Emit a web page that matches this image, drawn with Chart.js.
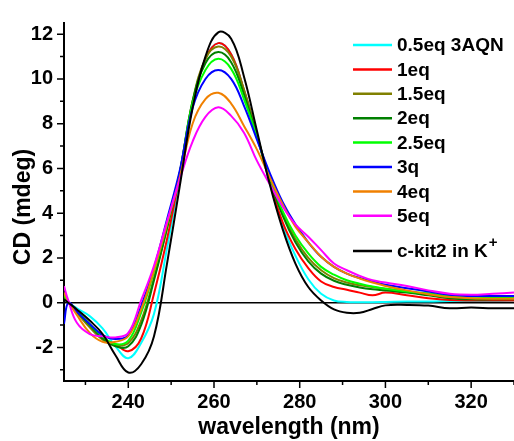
<!DOCTYPE html>
<html>
<head>
<meta charset="utf-8">
<script src="https://cdn.jsdelivr.net/npm/chart.js@4.4.0/dist/chart.umd.min.js"></script>
<style>
  body { margin: 0; background: #fff; }
</style>
</head>
<body>
<canvas id="myChart" width="514" height="441"></canvas>
<script>

// wavelength (nm) shared by all the spectra
const wavelength = [225, 226, 228, 231, 234, 237, 240, 243, 246, 249,
                    252, 255, 258, 261, 264, 267, 270, 273, 276, 279,
                    282, 285, 288, 291, 294, 297, 300, 305, 310, 315,
                    320, 325, 330];

// CD (mdeg)
const eq05 = [0.35, 0.05, -0.25, -0.6, -1.15, -1.95, -2.48, -1.8, -0.5, 2.4,
              5.6, 8.8, 10.9, 11.6, 11.1, 9.5, 7.55, 5.35, 3.45, 2.1,
              1.05, 0.4, 0.1, 0.03, 0.02, 0.02, 0.03, 0.05, 0.05, 0.07,
              0.08, 0.08, 0.1];
const eq1 = [0.3, 0.0, -0.35, -1.05, -1.6, -1.85, -2.17, -1.6, 0.4, 2.8,
             5.7, 8.9, 10.9, 11.6, 11.1, 9.5, 7.5, 5.4, 3.6, 2.4,
             1.55, 0.95, 0.7, 0.58, 0.45, 0.33, 0.45, 0.33, 0.2, 0.12,
             0.1, 0.1, 0.1];
const eq15 = [0.35, 0.0, -0.45, -1.1, -1.65, -1.9, -1.8, -0.8, 1.1, 3.3,
              5.8, 9.0, 10.9, 11.45, 11.0, 9.5, 7.5, 5.55, 4.0, 2.85,
              2.0, 1.45, 1.1, 0.9, 0.78, 0.7, 0.62, 0.5, 0.36, 0.22,
              0.18, 0.17, 0.18];
const eq2 = [0.3, 0.0, -0.4, -1.0, -1.6, -1.95, -1.95, -1.0, 1.0, 3.3,
             5.8, 9.0, 10.7, 11.2, 10.75, 9.3, 7.45, 5.5, 3.9, 2.7,
             1.85, 1.3, 0.98, 0.8, 0.68, 0.6, 0.55, 0.45, 0.33, 0.2,
             0.15, 0.15, 0.15];
const eq25 = [0.35, 0.0, -0.35, -0.95, -1.5, -1.85, -1.7, -0.45, 1.4, 3.5,
              5.8, 8.9, 10.4, 10.9, 10.45, 9.1, 7.4, 5.6, 4.1, 3.0,
              2.2, 1.6, 1.25, 1.0, 0.85, 0.72, 0.62, 0.5, 0.42, 0.3,
              0.27, 0.25, 0.25];
const eq3 = [-0.94, 0.0, -0.4, -0.95, -1.45, -1.62, -1.45, -0.15, 1.55, 3.7,
             5.9, 8.7, 10.0, 10.4, 10.0, 8.8, 7.3, 5.8, 4.5, 3.5,
             2.7, 2.05, 1.6, 1.3, 1.1, 0.95, 0.8, 0.65, 0.5, 0.35,
             0.3, 0.3, 0.3];
const eq4 = [0.45, 0.05, -0.55, -1.35, -1.75, -1.75, -1.5, -0.3, 1.45, 3.5,
             5.6, 8.0, 9.1, 9.38, 8.9, 7.9, 6.85, 5.6, 4.4, 3.4,
             2.7, 2.05, 1.6, 1.3, 1.08, 0.9, 0.75, 0.55, 0.38, 0.25,
             0.2, 0.18, 0.18];
const eq5 = [0.74, 0.1, -0.9, -1.4, -1.5, -1.55, -1.35, 0.1, 1.65, 3.6,
             5.5, 7.2, 8.3, 8.73, 8.35, 7.6, 6.35, 5.3, 4.3, 3.5,
             2.95, 2.35, 1.75, 1.45, 1.2, 1.0, 0.9, 0.75, 0.55, 0.4,
             0.36, 0.4, 0.45];
const ckit2 = [0.15, 0.0, -0.3, -0.8, -1.4, -2.35, -3.12, -2.75, -1.5, 1.7,
               5.2, 8.7, 11.0, 12.08, 11.8, 10.1, 7.7, 5.3, 3.3, 1.75,
               0.7, 0.1, -0.3, -0.45, -0.45, -0.28, -0.12, -0.1, -0.13, -0.25,
               -0.22, -0.25, -0.25];

const labels = ['0.5eq 3AQN', '1eq', '1.5eq', '2eq', '2.5eq', '3q', '4eq', '5eq', 'c-kit2 in K\u207A'];
const series = [eq05, eq1, eq15, eq2, eq25, eq3, eq4, eq5, ckit2];
const colors = ['#00FFFF', '#FF0000', '#808000', '#008000', '#00FF00', '#0000FF', '#F08000', '#FF00FF', '#000000'];

const yTicks = [-2, 0, 2, 4, 6, 8, 10, 12];
const xTicks = [240, 260, 280, 300, 320];

const FONT = '"Liberation Sans", Arial, sans-serif';

// legend drawn inside the plot, no box
const sideLegend = {
    id: 'sideLegend',
    afterDraw(chart){
        const ctx = chart.ctx;
        ctx.save();
        chart.data.datasets.forEach((ds, i) => {
            let y = i < 8 ? 45 + i * 24.4 : 251;
            ctx.strokeStyle = ds.borderColor;
            ctx.lineWidth = 2.5;
            ctx.beginPath();
            ctx.moveTo(353, y);
            ctx.lineTo(392, y);
            ctx.stroke();

            let text = ds.label;
            let sup = text.endsWith('\u207A');
            if(sup) text = text.slice(0, -1);
            ctx.fillStyle = '#000';
            ctx.textBaseline = 'middle';
            ctx.textAlign = 'left';
            ctx.font = 'bold 19px ' + FONT;
            ctx.fillText(text, 397, y + 1);
            if(sup){
                let w = ctx.measureText(text).width;
                ctx.font = 'bold 15px ' + FONT;
                ctx.fillText('+', 397 + w + 1, y - 8);
            }
        });
        ctx.restore();
    }
};

// outward major + minor ticks, axis titles
const axisDecor = {
    id: 'axisDecor',
    afterDraw(chart){
        const {ctx, chartArea, scales} = chart;
        const x = scales.x, y = scales.y;
        ctx.save();
        ctx.strokeStyle = '#000';
        ctx.lineWidth = 1.5;
        ctx.beginPath();
        for(let v = -3; v <= 12; v++){
            let py = y.getPixelForValue(v);
            let len = v % 2 === 0 ? 7 : 4;
            ctx.moveTo(chartArea.left - len, py);
            ctx.lineTo(chartArea.left, py);
        }
        for(let v = 230; v <= 330; v += 10){
            let px = x.getPixelForValue(v);
            let len = v % 20 === 0 ? 7 : 4;
            ctx.moveTo(px, chartArea.bottom);
            ctx.lineTo(px, chartArea.bottom + len);
        }
        ctx.stroke();

        ctx.fillStyle = '#000';
        ctx.font = 'bold 23px ' + FONT;
        ctx.textAlign = 'center';
        ctx.textBaseline = 'middle';
        ctx.fillText('wavelength (nm)', (chartArea.left + chartArea.right) / 2, 428);

        ctx.translate(24, 207);
        ctx.rotate(-Math.PI / 2);
        ctx.fillText('CD (mdeg)', 0, 0);
        ctx.restore();
    }
};

const ctx = document.getElementById('myChart').getContext('2d');

const myChart = new Chart(ctx, {
    type: 'line',
    data: {
        datasets: series.map((vals, i) => ({
            label: labels[i],
            data: wavelength.map((w, j) => ({x: w, y: vals[j]})),
            borderColor: colors[i],
            backgroundColor: colors[i],
            borderWidth: 2,
            pointRadius: 0,
            tension: 0.4,
            fill: false,
            order: series.length - i
        }))
    },
    options: {
        responsive: false,
        animation: false,
        devicePixelRatio: 1,
        layout: { padding: { top: 13, right: 0, left: 0, bottom: 0 } },
        plugins: {
            legend: { display: false },
            tooltip: { enabled: false }
        },
        scales: {
            x: {
                type: 'linear',
                min: 225,
                max: 330,
                afterFit: s => { s.height = 60; },
                afterBuildTicks: s => { s.ticks = xTicks.map(v => ({value: v})); },
                grid: { display: false, drawTicks: false },
                border: { display: true, color: '#000', width: 2 },
                ticks: {
                    color: '#000',
                    padding: 9,
                    maxRotation: 0,
                    font: { family: FONT, size: 20, weight: 'bold' }
                }
            },
            y: {
                min: -3.5,
                max: 12.5,
                afterFit: s => { s.width = 64; },
                afterBuildTicks: s => { s.ticks = yTicks.map(v => ({value: v})); },
                grid: {
                    drawTicks: false,
                    color: c => (c.tick && c.tick.value === 0) ? '#000' : 'rgba(0,0,0,0)',
                    lineWidth: 1.5
                },
                border: { display: true, color: '#000', width: 2 },
                ticks: {
                    color: '#000',
                    padding: 11,
                    font: { family: FONT, size: 20, weight: 'bold' }
                }
            }
        }
    },
    plugins: [axisDecor, sideLegend]
});

</script>
</body>
</html>
